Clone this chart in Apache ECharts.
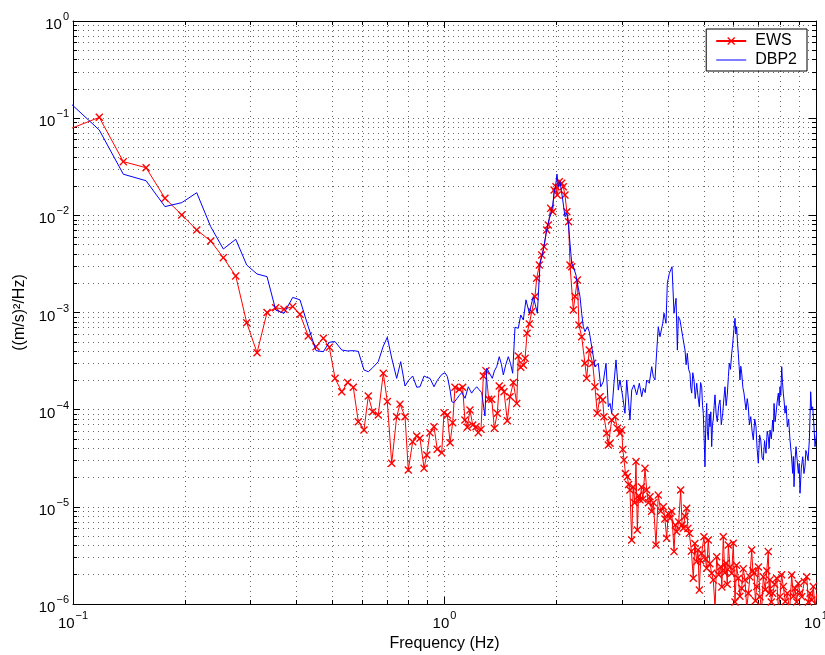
<!DOCTYPE html>
<html><head><meta charset="utf-8">
<script src="https://cdn.jsdelivr.net/npm/echarts@6/dist/echarts.min.js"></script>
<style>html,body{margin:0;padding:0;background:#fff}#c{width:825px;height:655px}</style>
</head><body><div id="c"></div>
<script>
// ---- tick labels (exponents of 10) ----
const xTickExponents = ['\u22121', '0', '1'];
const yTickExponents = ['\u22126', '\u22125', '\u22124', '\u22123', '\u22122', '\u22121', '0'];
const seriesNames = ['EWS', 'DBP2'];

// ---- EWS (red, x markers) ----
const ewsFreqLow = [0.0977,0.1177,0.1366,0.1573,0.1768,0.1962,0.2153,0.2348,0.2539,0.2742,
  0.2935,0.3129,0.3329,0.3512,0.3698,0.3903,0.4083,0.4298,0.451,0.4719,
  0.4897,0.5075,0.5289,0.5489,0.5682,0.5861,0.6071,0.6235,0.6406,0.6633,
  0.6842,0.7015,0.7209,0.7435,0.759,0.783,0.799,0.821,0.842,0.859,
  0.881,0.896,0.914,0.937,0.956,0.983,0.997];
const ewsPsdLow = [0.077,0.102,0.0357,0.0309,0.0150,0.0101,0.00707,0.00544,0.00367,0.00238,
  0.000785,0.000386,0.00100,0.00112,0.00108,0.00115,0.000958,0.000573,0.000445,0.000543,
  0.000439,0.00021,0.000153,0.00019,0.00017,7.52e-5,6.18e-5,0.000138,9.53e-5,8.81e-5,
  0.000237,0.000121,2.81e-5,8.47e-5,0.000114,8.47e-5,2.39e-5,4.68e-5,5.36e-5,5.08e-5,
  2.49e-5,3.42e-5,5.8e-5,6.68e-5,3.91e-5,3.61e-5,9.31e-5];
const ewsFreqMid = [1.018,1.035,1.052,1.067,1.096,1.119,1.135,1.152,1.171,1.191,
  1.216,1.233,1.254,1.272,1.293,1.315,1.340,1.362,1.387,1.404,
  1.426,1.446,1.476,1.501,1.532,1.565,1.580,1.604,1.630,1.648,
  1.668,1.692,1.717,1.752,1.771,1.800,1.827,1.853,1.884,1.903,
  1.931,1.956,1.972,1.996,2.012,2.037,2.068,2.088,2.110,2.135,
  2.158,2.177,2.200,2.222,2.246,2.278,2.301,2.340,2.388,2.414,
  2.453,2.505,2.541,2.578,2.622,2.666,2.687,2.733,2.760,2.790,
  2.819,2.877,2.920,2.967,2.999];
const ewsPsdMid = [8.81e-5,4.57e-5,7.35e-5,0.00017,0.000162,0.00017,7.83e-5,6.59e-5,9.93e-5,6.96e-5,
  6.68e-5,5.8e-5,6.28e-5,0.000222,0.000252,0.000128,0.000128,6.43e-5,9.18e-5,0.000175,
  0.000166,0.000153,7.7e-5,0.000136,0.00019,0.000116,0.000357,0.000273,0.000288,0.000338,
  0.000611,0.000762,0.00102,0.00146,0.00225,0.00308,0.0039,0.00476,0.00707,0.00796,
  0.0118,0.0109,0.0182,0.0197,0.0162,0.0222,0.0214,0.0197,0.0162,0.0109,
  0.0086,0.00308,0.00296,0.00106,0.00146,0.00216,0.000744,0.000564,0.0003,0.00021,
  0.000411,0.0003,0.000172,9.18e-5,0.000136,0.000126,8.47e-5,5.71e-5,4.33e-5,4.51e-5,
  7.83e-5,8.47e-5,6.43e-5,5.71e-5,6.18e-5];
const ewsFreqHigh = [3.020,3.042,3.07,3.105,3.13,3.157,3.191,3.22,3.25,3.277,
  3.304,3.33,3.359,3.39,3.42,3.465,3.502,3.54,3.575,3.61,
  3.65,3.709,3.762,3.82,3.882,3.92,3.964,4.0,4.046,4.09,
  4.148,4.18,4.217,4.27,4.323,4.36,4.393,4.44,4.487,4.52,
  4.56,4.62,4.674,4.72,4.774,4.81,4.852,4.89,4.924,4.994,
  5.04,5.079,5.129,5.18,5.239,5.291,5.35,5.403,5.47,5.539,
  5.58,5.629,5.68,5.724,5.77,5.807,5.87,5.93,5.989,6.053,
  6.11,6.178,6.24,6.31,6.37,6.44,6.51,6.574,6.64,6.714,
  6.76,6.81,6.87,6.925,7.0,7.068,7.14,7.214,7.3,7.37,
  7.44,7.48,7.519,7.58,7.646,7.74,7.837,7.92,8.0,8.08,
  8.166,8.27,8.372,8.49,8.603,8.69,8.781,8.87,8.963,9.06,
  9.152,9.3,9.441,9.54,9.637,9.74,9.836,9.94,10.05];
const ewsPsdHigh = [3.9e-5,3.04e-5,2.2e-5,2.04e-5,1.7e-5,1.49e-5,4.56e-6,1.6e-5,1.1e-5,2.92e-5,
  5.78e-6,1.3e-5,1.18e-5,1.6e-5,1.2e-5,2.49e-5,1.49e-5,1.1e-5,1.27e-5,9e-6,
  1.1e-5,4.05e-6,1.32e-5,9e-6,1.0e-5,7.5e-6,4.75e-6,8.5e-6,7.62e-6,9e-6,
  3.46e-6,6.5e-6,5.55e-6,7e-6,1.49e-5,6.5e-6,6.02e-6,8e-6,9.66e-6,6e-6,
  5.34e-6,3.5e-6,1.84e-6,4.2e-6,2.73e-6,3.6e-6,1.39e-6,2.8e-6,3.33e-6,4.93e-6,
  2.9e-6,2.33e-6,4.56e-6,2.6e-6,2.07e-6,1.77e-6,9e-7,3.07e-6,2.0e-6,2.42e-6,
  1.5e-6,4.93e-6,2.1e-6,2.63e-6,1.6e-6,4.05e-6,2.4e-6,2.07e-6,4.22e-6,1.05e-6,
  2.5e-6,1.84e-6,1.2e-6,1.45e-6,2.3e-6,1.77e-6,9e-7,1.29e-6,1.9e-6,3.6e-6,
  2.2e-6,2.07e-6,1.08e-6,1.51e-6,2.4e-6,1.19e-6,8.5e-7,1.91e-6,1.4e-6,2.2e-6,
  3.46e-6,1.3e-6,1.77e-6,1.05e-6,1.29e-6,1.6e-6,1.84e-6,9e-7,1.19e-6,2.0e-6,
  1.51e-6,1.06e-6,1.29e-6,8.5e-7,1.99e-6,1.2e-6,1.45e-6,1.05e-6,1.63e-6,1.3e-6,
  1.19e-6,1.7e-6,1.91e-6,1.05e-6,1.29e-6,1.1e-6,1.51e-6,9e-7,1.29e-6];

// ---- DBP2 (blue line) ----
const dbpFreqLow = [0.0977,0.1177,0.1366,0.1573,0.1768,0.1962,0.2153,0.2348,0.2539,0.2742,
  0.2935,0.3129,0.3329,0.3512,0.3698,0.3903,0.4083,0.4298,0.451,0.4719,
  0.4897,0.5075,0.5289,0.5489,0.5682,0.5861,0.6071,0.6235,0.6406,0.6633,
  0.6842,0.7015,0.7209,0.7435,0.7622,0.783,0.80,0.821,0.842,0.859,
  0.881,0.896,0.914,0.937,0.956,0.983];
const dbpPsdLow = [0.146,0.0755,0.0265,0.0227,0.0123,0.0135,0.0171,0.00764,0.0045,0.00567,
  0.00308,0.00249,0.00234,0.00106,0.00098,0.00143,0.00135,0.000714,0.000405,0.000395,
  0.000494,0.000501,0.000411,0.000402,0.000405,0.000398,0.000256,0.000246,0.00027,0.000312,
  0.00045,0.000556,0.00034,0.00021,0.000312,0.000175,0.0002,0.000222,0.00017,0.000172,
  0.000222,0.000215,0.00021,0.000172,0.0002,0.00023];
const dbpFreqMid = [1.003,1.018,1.035,1.046,1.06,1.08,1.096,1.113,1.136,1.159,
  1.183,1.2,1.221,1.24,1.259,1.285,1.299,1.32,1.345,1.362,
  1.382,1.404,1.424,1.44,1.462,1.485,1.505,1.526,1.548,1.58,
  1.604,1.63,1.657,1.692,1.712,1.734,1.756,1.778,1.808,1.838,
  1.864,1.884,1.915,1.931,1.956,1.972,1.99,2.008,2.025,2.046,
  2.081,2.110,2.133,2.154,2.177,2.2,2.222,2.259,2.278,2.316,
  2.34,2.364,2.388,2.424,2.453,2.49,2.541,2.594,2.633,2.676,
  2.721,2.76,2.79,2.819,2.859,2.895,2.937,2.967];
const dbpPsdMid = [0.00024,0.000219,0.00016,0.000121,0.000118,0.00013,0.00014,0.00015,0.000131,0.000172,
  0.000148,0.00016,0.000172,0.00016,0.00015,8.6e-5,0.000267,0.00024,0.00021,0.00025,
  0.000277,0.000351,0.00029,0.000228,0.00029,0.000351,0.0003,0.000237,0.000705,0.000688,
  0.000943,0.000838,0.00135,0.000982,0.0012,0.00146,0.0012,0.000982,0.00321,0.00407,
  0.00557,0.00707,0.00932,0.0101,0.0128,0.0169,0.0197,0.0266,0.0197,0.0222,
  0.0144,0.00968,0.0105,0.00828,0.00516,0.00321,0.00296,0.00243,0.002,0.00146,
  0.000982,0.000714,0.000635,0.000714,0.000635,0.000445,0.000277,0.0003,0.000172,0.000194,
  0.0003,0.000107,0.000116,9.18e-5,0.000187,0.000325,0.000159,0.000202];
const dbpFreqHigh = [3.018,3.061,3.094,3.13,3.157,3.191,3.236,3.291,3.345,3.395,
  3.429,3.47,3.502,3.559,3.612,3.648,3.686,3.709,3.762,3.802,
  3.867,3.898,3.947,3.979,4.029,4.064,4.097,4.148,4.2,4.235,
  4.259,4.304,4.377];
const dbpPsdHigh = [0.000136,9.18e-5,0.000202,0.00012,7.83e-5,0.000159,0.00018,0.000142,0.000187,0.000136,
  0.000166,0.00015,0.000202,0.000187,0.000277,0.000219,0.000202,0.0003,0.000714,0.000564,
  0.000774,0.000982,0.000774,0.002,0.00253,0.00243,0.00296,0.000982,0.0014,0.00041,
  0.00091,0.000838,0.000564];
const dbpFreqTail = [4.44,4.47,4.504,4.54,4.58,4.6,4.628,4.66,4.695,4.73,
  4.774,4.81,4.852,4.89,4.924,4.95,4.973,5.0,5.025,5.05,
  5.079,5.1,5.129,5.16,5.183,5.21,5.239,5.265,5.29,5.32,
  5.347,5.385,5.424,5.47,5.516,5.56,5.609,5.65,5.689,5.73,
  5.77,5.81,5.842,5.885,5.93,5.96,5.989,6.02,6.053,6.085,
  6.116,6.15,6.178,6.21,6.242,6.275,6.31,6.355,6.4,6.44,
  6.48,6.53,6.574,6.62,6.673,6.73,6.781,6.84,6.895,6.94,
  6.994,7.05,7.1,7.16,7.214,7.27,7.335,7.39,7.44,7.48,
  7.519,7.58,7.646,7.68,7.71,7.76,7.806,7.86,7.918,7.96,
  8.0,8.04,8.086,8.126,8.166,8.21,8.253,8.31,8.372,8.44,
  8.511,8.58,8.655,8.69,8.726,8.78,8.835,8.9,8.963,9.01,
  9.057,9.13,9.21,9.28,9.342,9.39,9.441,9.52,9.596,9.64,
  9.676,9.73,9.797,9.87,9.94,10.05];
const dbpPsdTail = [0.000411,0.00029,0.00038,0.00026,0.000237,0.00017,0.000148,0.00024,0.000202,0.00013,
  0.000187,0.00014,0.000107,0.00019,0.000172,0.00011,9.18e-5,5e-5,2.59e-5,7e-5,
  0.000116,6e-5,4.87e-5,9e-5,6.68e-5,9.5e-5,4.16e-5,7e-5,8e-5,0.00011,
  0.000142,9e-5,7.52e-5,0.00011,0.000126,7e-5,9.18e-5,0.00013,0.000172,0.00011,
  0.000142,0.00022,0.0003,0.00026,0.00038,0.00045,0.000564,0.0007,0.000872,0.0006,
  0.000714,0.00048,0.00038,0.00028,0.000202,0.00028,0.000237,0.00017,0.000148,0.00012,
  9.93e-5,0.00013,0.000107,7e-5,8.47e-5,6e-5,4.87e-5,8e-5,6.68e-5,4e-5,
  2.81e-5,5.5e-5,4.87e-5,3.2e-5,3.04e-5,4.8e-5,3.56e-5,6e-5,5.27e-5,4e-5,
  6.18e-5,5e-5,7.83e-5,6e-5,0.000116,7.5e-5,9.18e-5,0.00012,0.000148,0.00011,
  0.000172,0.00014,0.000277,0.00019,0.000148,0.00012,9.18e-5,0.00011,6.68e-5,8e-5,
  4.87e-5,3.5e-5,2.21e-5,3.3e-5,1.61e-5,3e-5,4.16e-5,3e-5,2.21e-5,2.8e-5,
  1.38e-5,2.5e-5,3.28e-5,2.2e-5,2.59e-5,3.8e-5,3.56e-5,3e-5,4.87e-5,9e-5,
  0.000153,0.0001,0.000107,7e-5,4.16e-5,6e-5];

// ---- build ----
function pairs(fs, vs) { const out = []; const n = Math.min(fs.length, vs.length); for (let i = 0; i < n; i++) out.push([fs[i], vs[i]]); return out; }
const ewsData = pairs(ewsFreqLow, ewsPsdLow).concat(pairs(ewsFreqMid, ewsPsdMid), pairs(ewsFreqHigh, ewsPsdHigh));
const dbpData = pairs(dbpFreqLow, dbpPsdLow).concat(pairs(dbpFreqMid, dbpPsdMid), pairs(dbpFreqHigh, dbpPsdHigh), pairs(dbpFreqTail, dbpPsdTail));

const F = '"Liberation Sans", Arial, Helvetica, sans-serif';
const dotted = { color: '#000', width: 1, type: [1, 4], opacity: 0.6 };
const richLbl = {
  b: { fontSize: 15, fontFamily: F, color: '#000' },
  s: { fontSize: 11, fontFamily: F, color: '#000', padding: [0, 0, 16, 1] }
};
function fmt(exps, minExp) {
  return function (v) { const e = Math.round(Math.log10(v)); return '{b|10}{s|' + exps[e - minExp] + '}'; };
}
const xSub = (pos) => ({
  type: 'log', logBase: 10, min: 0.1, max: 10, splitNumber: 2, position: pos,
  axisLine: { show: true, onZero: false, lineStyle: { color: '#000', width: 1 } },
  axisTick: { show: true, inside: true, length: 7, lineStyle: { color: '#000' } },
  minorTick: { show: true, splitNumber: 9, length: 4, lineStyle: { color: '#000' } },
});
const ySub = (pos) => ({
  type: 'log', logBase: 10, min: 1e-6, max: 1, splitNumber: 6, position: pos,
  axisLine: { show: true, onZero: false, lineStyle: { color: '#000', width: 1 } },
  axisTick: { show: true, inside: true, length: 7, lineStyle: { color: '#000' } },
  minorTick: { show: true, splitNumber: 9, length: 4, lineStyle: { color: '#000' } },
});

const xBottom = Object.assign(xSub('bottom'), {
  splitLine: { show: true, lineStyle: dotted },
  minorSplitLine: { show: true, lineStyle: dotted },
  axisLabel: { show: true, margin: 6, formatter: fmt(xTickExponents, -1), rich: richLbl, showMaxLabel: true, showMinLabel: true },
  name: 'Frequency (Hz)', nameLocation: 'middle', nameGap: 29,
  nameTextStyle: { fontSize: 16, fontFamily: F, color: '#000' }
});
const xTop = Object.assign(xSub('top'), { splitLine: { show: false }, axisLabel: { show: false } });
const yLeft = Object.assign(ySub('left'), {
  splitLine: { show: true, lineStyle: dotted },
  minorSplitLine: { show: true, lineStyle: dotted },
  axisLabel: { show: true, margin: 4, padding: [8, 0, 0, 0], formatter: fmt(yTickExponents, -6), rich: richLbl },
  name: '((m/s)\u00B2/Hz)', nameLocation: 'middle', nameGap: 41,
  nameTextStyle: { fontSize: 16, fontFamily: F, color: '#000' }
});
const yRight = Object.assign(ySub('right'), { splitLine: { show: false }, axisLabel: { show: false } });

const xMark = 'path://M0,1.2L1.2,0L5,3.8L8.8,0L10,1.2L6.2,5L10,8.8L8.8,10L5,6.2L1.2,10L0,8.8L3.8,5Z';
const lineIcon = 'path://M0,0L0.01,0M0,4.5L30,4.5L30,5.5L0,5.5ZM30,10L29.99,10';

const chart = echarts.init(document.getElementById('c'), null, { renderer: 'canvas' });
chart.setOption({
  animation: false,
  backgroundColor: '#fff',
  grid: { left: 73, right: 9, top: 21, bottom: 51, containLabel: false, outerBoundsMode: 'none' },
  legend: {
    data: [{ name: seriesNames[0] }, { name: seriesNames[1], icon: lineIcon, itemStyle: { borderWidth: 0 } }],
    orient: 'vertical', right: 18, top: 29,
    backgroundColor: '#fff', borderColor: '#000', borderWidth: 1, borderRadius: 0,
    padding: [4, 10, 3, 9], itemGap: 3, itemWidth: 30, itemHeight: 10,
    textStyle: { fontSize: 16, fontFamily: F, color: '#000', padding: [0, 0, 0, 4] }
  },
  xAxis: [xBottom, xTop],
  yAxis: [yLeft, yRight],
  series: [
    {
      name: seriesNames[0], type: 'line', xAxisIndex: 0, yAxisIndex: 0, data: ewsData,
      symbol: xMark, symbolSize: 8, showSymbol: true, showAllSymbol: true, clip: true,
      lineStyle: { color: '#ff0000', width: 1 }, itemStyle: { color: '#ff0000' }, z: 3
    },
    {
      name: seriesNames[1], type: 'line', xAxisIndex: 0, yAxisIndex: 0, data: dbpData,
      symbol: 'none', clip: true,
      lineStyle: { color: '#0000ff', width: 1 }, itemStyle: { color: '#0000ff' }, z: 4
    }
  ]
});
</script>
</body></html>
